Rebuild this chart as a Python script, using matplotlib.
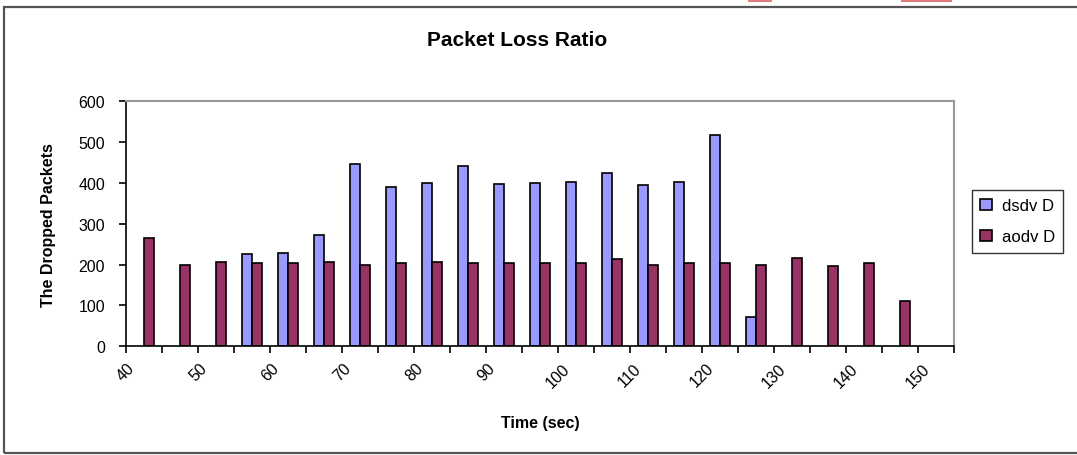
import numpy as np
import matplotlib
matplotlib.use("Agg")
import matplotlib.pyplot as plt
from matplotlib.patches import Rectangle

plt.rcParams['font.family'] = ['Liberation Sans', 'DejaVu Sans']

# 5-second time bins, 40..150
bin_start = np.arange(40, 155, 5)
dsdv = [0, 0, 0, 225, 228, 273, 445, 390, 400, 442, 396, 400, 403, 425,
        394, 403, 517, 72, 0, 0, 0, 0, 0]
aodv = [265, 200, 207, 204, 204, 207, 200, 204, 207, 204, 204, 204, 204, 213,
        200, 204, 204, 200, 217, 196, 204, 111, 0]
series_names = ['dsdv D', 'aodv D']
tick_labels = [str(v) for v in range(40, 151, 10)]

W, H = 1077, 456
fig = plt.figure(figsize=(W / 100, H / 100), dpi=100)
ax = fig.add_axes([126 / W, 1 - 347.3 / H, (954 - 126) / W, (347.3 - 102) / H])

w = 1.32
centers = bin_start + 2.5


def draw(offset, vals, color, name):
    vals = np.asarray(vals, dtype=float)
    keep = vals > 0          # empty bins get no bar at all
    ax.bar(centers[keep] + offset, vals[keep], width=w, color=color,
           edgecolor='black', linewidth=1.2, label=name)


draw(-w / 2, dsdv, '#9999FF', series_names[0])
draw(w / 2, aodv, '#993366', series_names[1])

ax.set_xlim(40, 155)
ax.set_ylim(0, 600)
ax.set_yticks(range(0, 601, 100))
ax.set_xticks(np.arange(40, 156, 5))
labels = []
for v in range(40, 156, 5):
    labels.append(str(v) if str(v) in tick_labels else '')
ax.set_xticklabels(labels, rotation=45, ha='center')
ax.tick_params(axis='both', direction='out', length=5, width=1.2, labelsize=11.5)
ax.tick_params(axis='x', pad=5)
ax.tick_params(axis='y', pad=10)

for s in ['left', 'bottom']:
    ax.spines[s].set_linewidth(1.2)
    ax.spines[s].set_color('black')
for s in ['top', 'right']:
    ax.spines[s].set_linewidth(1.5)
    ax.spines[s].set_color('#9a9a9a')

ax.set_ylabel('The Dropped Packets', fontsize=11.5, fontweight='bold', labelpad=16)
ax.set_xlabel('Time (sec)', fontsize=11.5, fontweight='bold', labelpad=18)
fig.text(517 / W, 1 - 40 / H, 'Packet Loss Ratio', fontsize=15,
         fontweight='bold', ha='center', va='center')

leg = fig.legend(loc='upper left', bbox_to_anchor=(972 / W, 1 - 191 / H),
                 frameon=True, fancybox=False, shadow=False, fontsize=12,
                 handlelength=0.7, handleheight=0.7, handletextpad=0.6,
                 borderpad=0.5, labelspacing=0.95, borderaxespad=0)
leg.get_frame().set_edgecolor('black')
leg.get_frame().set_linewidth(1.0)

# chart area frame, open on the right
fig.add_artist(Rectangle((4 / W, 2 / H), 1.1, (446 / H), transform=fig.transFigure,
                         fill=False, edgecolor='#555555', linewidth=1.6))
# red marks along the top edge
for x0, x1 in [(748, 772), (901, 952)]:
    fig.add_artist(Rectangle((x0 / W, 1 - 3 / H), (x1 - x0) / W, 3 / H,
                             transform=fig.transFigure, color='#e07b7b', lw=0))

fig.savefig('out.png', dpi=100)
